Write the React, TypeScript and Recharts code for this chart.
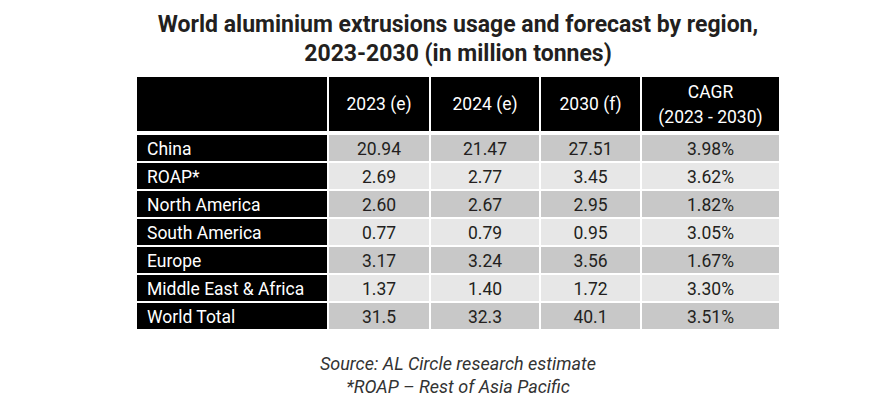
import React from 'react';
import { BarChart, Bar, XAxis, YAxis } from 'recharts';

// ---------- data ----------
const TITLE_LINES = [
  'World aluminium extrusions usage and forecast by region,',
  '2023-2030 (in million tonnes)',
];
const HEADER_LABELS = ['', '2023 (e)', '2024 (e)', '2030 (f)', 'CAGR|(2023 - 2030)'];
const REGIONS = [
  'China',
  'ROAP*',
  'North America',
  'South America',
  'Europe',
  'Middle East & Africa',
  'World Total',
];
const V2023 = [20.94, 2.69, 2.6, 0.77, 3.17, 1.37, 31.5];
const V2024 = [21.47, 2.77, 2.67, 0.79, 3.24, 1.4, 32.3];
const V2030 = [27.51, 3.45, 2.95, 0.95, 3.56, 1.72, 40.1];
const CAGR = [3.98, 3.62, 1.82, 3.05, 1.67, 3.3, 3.51];
const FOOTNOTES = ['Source: AL Circle research estimate', '*ROAP – Rest of Asia Pacific'];

// ---------- layout / style ----------
if (typeof document !== 'undefined') {
  document.body.style.margin = '0';
}
const W = 887;
const H = 401;
const COL_W = [192, 102, 110, 101, 139];
const TOTAL_W = COL_W.reduce((a, b) => a + b, 0);
const FONT = 'Roboto, "DejaVu Sans", sans-serif';
const DARK_ROW = '#c8c8c8';
const LIGHT_ROW = '#e7e7e7';
const TEXT = '#231f20';
const CELL_FONT = 17.5;

const fmtNum = (v: number, isTotal: boolean) => v.toFixed(isTotal ? 1 : 2);

const rows = [
  { name: 'header', cells: HEADER_LABELS, header: true, shade: 0 },
  ...REGIONS.map((r, i) => {
    const isTotal = i === REGIONS.length - 1;
    return {
      name: r,
      cells: [
        r,
        fmtNum(V2023[i], isTotal),
        fmtNum(V2024[i], isTotal),
        fmtNum(V2030[i], isTotal),
        CAGR[i].toFixed(2) + '%',
      ],
      header: false,
      shade: i % 2,
    };
  }),
];

const makeShape = (col: number) => (props: any) => {
  const { x, y, width, height, payload } = props;
  const row = payload;
  const label: string = row.cells[col];
  if (row.header) {
    const top = y - 29;
    const bottom = y + height - 3;
    const cy = (top + bottom) / 2;
    const parts = label.split('|');
    return (
      <g>
        <rect x={x + 1} y={top} width={width - 2} height={bottom - top} fill="#000" />
        {parts.map((p, k) => (
          <text
            key={k}
            x={x + width / 2}
            y={cy + (k - (parts.length - 1) / 2) * 25}
            textAnchor="middle"
            dominantBaseline="central"
            fill="#fff"
            fontFamily={FONT}
            fontSize={CELL_FONT}
          >
            {p}
          </text>
        ))}
      </g>
    );
  }
  const fill = col === 0 ? '#000' : row.shade ? LIGHT_ROW : DARK_ROW;
  return (
    <g>
      <rect x={x + 1} y={y + 1} width={width - 2} height={height - 2} fill={fill} />
      <text
        x={col === 0 ? x + 11 : x + width / 2}
        y={y + height / 2 + 0.5}
        textAnchor={col === 0 ? 'start' : 'middle'}
        dominantBaseline="central"
        fill={col === 0 ? '#fff' : TEXT}
        fontFamily={FONT}
        fontSize={CELL_FONT}
      >
        {label}
      </text>
    </g>
  );
};

export default function App() {
  return (
    <div style={{ position: 'relative', width: W, height: H, background: '#fff' }}>
      <BarChart
        width={W}
        height={H}
        data={rows}
        layout="vertical"
        margin={{ top: 106, right: W - 136 - TOTAL_W, bottom: 71, left: 136 }}
        barCategoryGap={0}
        barGap={0}
      >
        <XAxis type="number" domain={[0, TOTAL_W]} hide />
        <YAxis type="category" dataKey="name" hide />
        {COL_W.map((w, c) => (
          <Bar
            key={c}
            dataKey={() => w}
            stackId="table"
            isAnimationActive={false}
            shape={makeShape(c)}
          />
        ))}
      </BarChart>
      <svg
        width={W}
        height={H}
        style={{ position: 'absolute', left: 0, top: 0, pointerEvents: 'none' }}
      >
        {TITLE_LINES.map((t, i) => (
          <text
            key={i}
            x={458}
            y={32 + i * 29}
            textAnchor="middle"
            fill={TEXT}
            fontFamily={FONT}
            fontWeight={700}
            fontSize={23}
          >
            {t}
          </text>
        ))}
        {FOOTNOTES.map((t, i) => (
          <text
            key={i}
            x={458}
            y={370 + i * 23}
            textAnchor="middle"
            fill="#333"
            fontFamily={FONT}
            fontStyle="italic"
            fontSize={18}
          >
            {t}
          </text>
        ))}
      </svg>
    </div>
  );
}
